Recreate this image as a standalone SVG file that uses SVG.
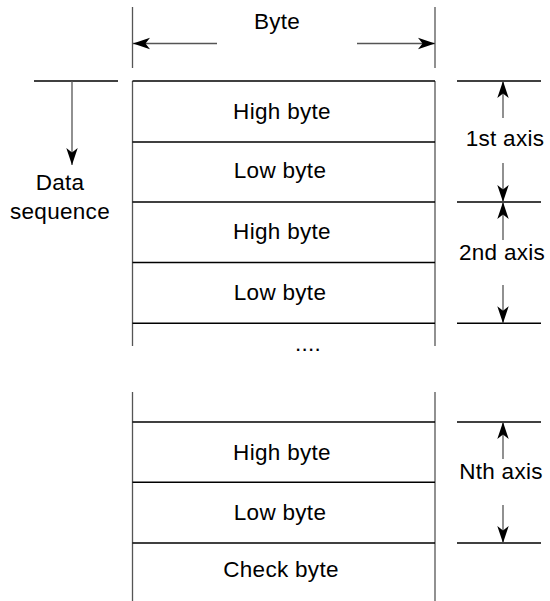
<svg xmlns="http://www.w3.org/2000/svg" width="550" height="601" viewBox="0 0 550 601">
<style>
  text { font-family: "Liberation Sans", Arial, sans-serif; font-size: 22.5px; fill: #000; letter-spacing: 0.3px; }
  .c { text-anchor: middle; }
  .h { stroke: #000; stroke-width: 1.4; fill: none; }
  .v { stroke: #555; stroke-width: 1.3; fill: none; }
  .a { stroke: #555; stroke-width: 1.3; fill: none; marker-end: url(#ah); }
</style>
<defs>
  <marker id="ah" markerUnits="userSpaceOnUse" markerWidth="18" markerHeight="14" refX="17" refY="7" orient="auto">
    <path d="M0,1.3 L17,7 L0,12.7 L4.5,7 Z" fill="#000"/>
  </marker>
</defs>
<rect width="550" height="601" fill="#fff"/>

<g id="byte-width">
  <line class="v" x1="132.5" y1="7" x2="132.5" y2="68"/>
  <line class="v" x1="435" y1="7" x2="435" y2="68"/>
  <text class="c" x="277" y="28.5">Byte</text>
</g>

<g id="data-sequence">
  <line class="h" x1="34" y1="81" x2="118" y2="81"/>
  <text class="c" x="60" y="190">Data</text>
  <text class="c" x="60" y="219">sequence</text>
</g>

<g id="frame-top">
  <line class="v" x1="132.5" y1="81" x2="132.5" y2="346"/>
  <line class="v" x1="435" y1="81" x2="435" y2="346"/>
  <line class="h" x1="132.5" y1="81" x2="435" y2="81"/>
</g>
<g id="row1">
  <line class="h" x1="132.5" y1="142" x2="435" y2="142"/>
  <text class="c" x="282" y="118.5">High byte</text>
</g>
<g id="row2">
  <line class="h" x1="132.5" y1="202" x2="435" y2="202"/>
  <text class="c" x="280" y="178">Low byte</text>
</g>
<g id="row3">
  <line class="h" x1="132.5" y1="262.5" x2="435" y2="262.5"/>
  <text class="c" x="282" y="239">High byte</text>
</g>
<g id="row4">
  <line class="h" x1="132.5" y1="323.3" x2="435" y2="323.3"/>
  <text class="c" x="280" y="300">Low byte</text>
</g>
<g id="ellipsis">
  <text class="c" x="308" y="351">....</text>
</g>

<g id="frame-bottom">
  <line class="v" x1="132.5" y1="392" x2="132.5" y2="601"/>
  <line class="v" x1="435" y1="392" x2="435" y2="601"/>
</g>
<g id="row-n-high">
  <line class="h" x1="132.5" y1="422" x2="435" y2="422"/>
  <text class="c" x="282" y="460">High byte</text>
</g>
<g id="row-n-low">
  <line class="h" x1="132.5" y1="482.3" x2="435" y2="482.3"/>
  <text class="c" x="280" y="520">Low byte</text>
</g>
<g id="row-check">
  <line class="h" x1="132.5" y1="543" x2="435" y2="543"/>
  <text class="c" x="281" y="577">Check byte</text>
</g>

<g id="axis1">
  <line class="h" x1="457" y1="81" x2="541" y2="81"/>
  <line class="h" x1="457" y1="202" x2="541" y2="202"/>
  <text class="c" x="505" y="145.5">1st axis</text>
</g>
<g id="axis2">
  <line class="h" x1="457" y1="323.3" x2="541" y2="323.3"/>
  <text class="c" x="502" y="260">2nd axis</text>
</g>
<g id="axisN">
  <line class="h" x1="457" y1="422" x2="541" y2="422"/>
  <line class="h" x1="457" y1="543" x2="541" y2="543"/>
  <text class="c" x="501" y="479">Nth axis</text>
</g>

<g id="connectors">
  <line class="a" x1="217" y1="43.5" x2="133" y2="43.5"/>
  <line class="a" x1="357" y1="43.5" x2="435" y2="43.5"/>
  <line class="a" x1="72" y1="81" x2="72" y2="165"/>
  <line class="a" x1="503" y1="118" x2="503" y2="81"/>
  <line class="a" x1="503" y1="163" x2="503" y2="202"/>
  <line class="a" x1="503" y1="240" x2="503" y2="202"/>
  <line class="a" x1="503" y1="285" x2="503" y2="323.3"/>
  <line class="a" x1="503" y1="459" x2="503" y2="422"/>
  <line class="a" x1="503" y1="505" x2="503" y2="543"/>
</g>
</svg>
